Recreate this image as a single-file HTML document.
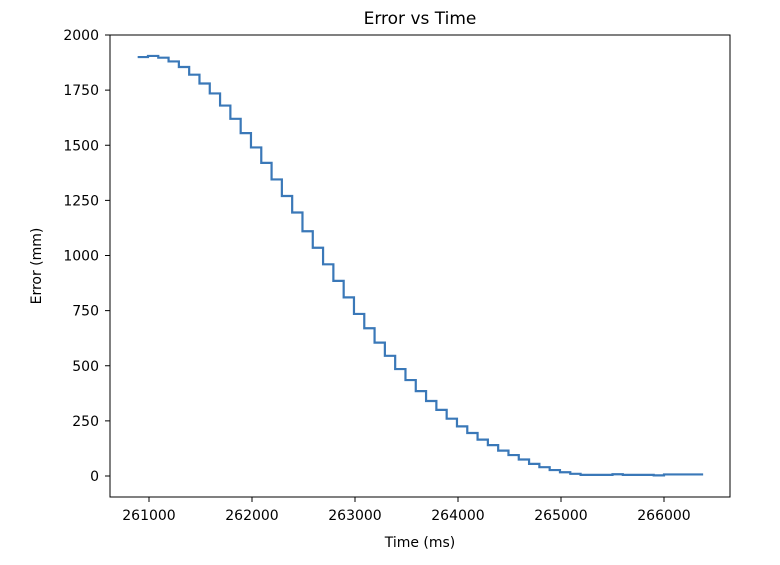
<!DOCTYPE html>
<html><head><meta charset="utf-8"><style>
body{margin:0;background:#fff;}
svg{display:block;font-family:"DejaVu Sans","Liberation Sans",sans-serif;}
</style></head><body>
<svg id="chart" width="780" height="565" viewBox="0 0 780 565" xmlns="http://www.w3.org/2000/svg">
<rect width="780" height="565" fill="#fff"/>
<text x="420" y="24" font-size="17" text-anchor="middle" fill="#000">Error vs Time</text>
<g id="xticks"></g><g id="yticks"></g>
<path id="series" fill="none" stroke="#3a78b8" stroke-width="2.2"/>
<rect x="110" y="35" width="620" height="462" fill="none" stroke="#000" stroke-width="1"/>
<text x="420" y="547" font-size="14" text-anchor="middle">Time (ms)</text>
<text transform="translate(41,266) rotate(-90)" font-size="14" text-anchor="middle">Error (mm)</text>
</svg>
<script>
const times=[260890,260990,261090,261190,261290,261390,261490,261590,261690,261790,261890,261990,262090,262190,262290,262390,262490,262590,262690,262790,262890,262990,263090,263190,263290,263390,263490,263590,263690,263790,263890,263990,264090,264190,264290,264390,264490,264590,264690,264790,264890,264990,265090,265190,265500,265600,265900,266000,266380];
const errors=[1900,1905,1897,1880,1855,1820,1780,1735,1680,1620,1555,1490,1420,1345,1270,1195,1110,1035,960,885,810,735,670,605,545,485,435,385,340,300,260,225,195,165,140,115,95,75,55,40,27,17,10,5,8,5,3,7,7];
const xTickVals=[261000,262000,263000,264000,265000,266000];
const yTickVals=[0,250,500,750,1000,1250,1500,1750,2000];
const NS="http://www.w3.org/2000/svg";
function xs(t){return 149+(t-261000)*0.103;}
function ys(v){return 476-v*0.2205;}
let d="";
for(let i=0;i<times.length;i++){
  const x=xs(times[i]),y=ys(errors[i]);
  if(i===0)d+="M"+x+" "+y;else d+=" H"+x+" V"+y;
}
document.getElementById('series').setAttribute('d',d);
const xg=document.getElementById('xticks');
xTickVals.forEach(v=>{
  const x=xs(v);
  const l=document.createElementNS(NS,'line');
  
  
  l.setAttribute('x1',x);l.setAttribute('x2',x);l.setAttribute('y1',497);l.setAttribute('y2',502);l.setAttribute('stroke','#000');
  xg.appendChild(l);
  const t=document.createElementNS(NS,'text');
  
  
  t.setAttribute('x',x);t.setAttribute('y',520);t.setAttribute('font-size','14');t.setAttribute('text-anchor','middle');
  t.textContent=v;xg.appendChild(t);
});
const yg=document.getElementById('yticks');
yTickVals.forEach(v=>{
  const y=ys(v);
  const l=document.createElementNS(NS,'line');
  
  
  l.setAttribute('x1',105);l.setAttribute('x2',110);l.setAttribute('y1',y);l.setAttribute('y2',y);l.setAttribute('stroke','#000');
  yg.appendChild(l);
  const t=document.createElementNS(NS,'text');
  
  
  t.setAttribute('x',99);t.setAttribute('y',y+5);t.setAttribute('font-size','14');t.setAttribute('text-anchor','end');
  t.textContent=v;yg.appendChild(t);
});
</script>
</body></html>
